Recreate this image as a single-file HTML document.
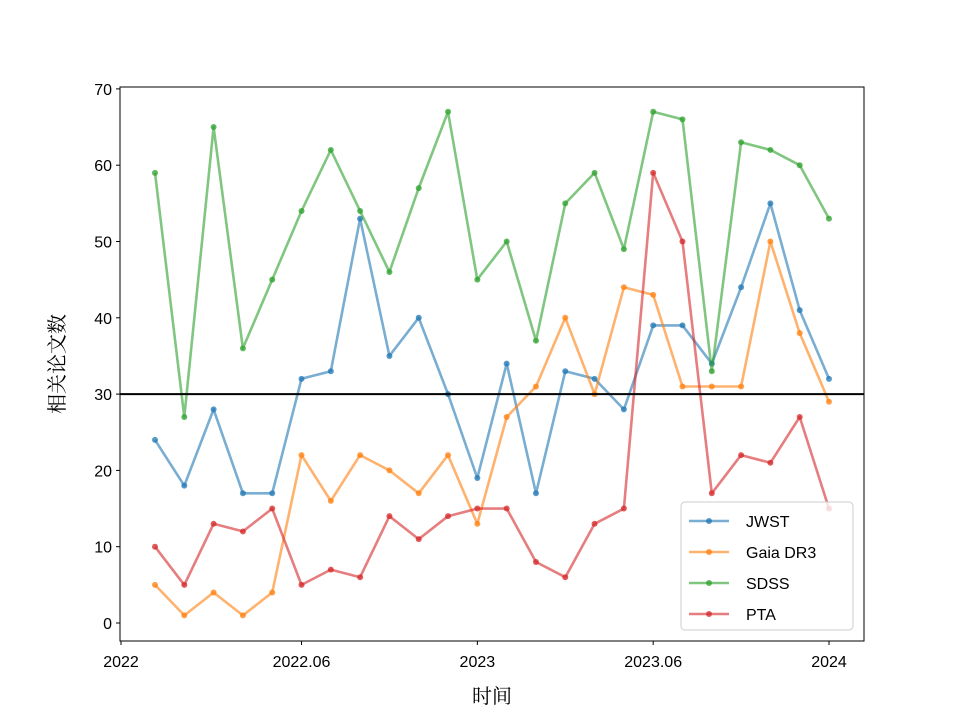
<!DOCTYPE html>
<html><head><meta charset="utf-8"><style>
body{margin:0;background:#fff;}
svg{display:block;font-family:"Liberation Sans","DejaVu Sans","Noto Sans CJK SC",sans-serif;}
</style></head><body>
<svg id="chart" width="960" height="720">
<rect x="0" y="0" width="960" height="720" fill="#fff"/>
<g id="plot"></g>
</svg>
<script>
const months = ["2022-01","2022-02","2022-03","2022-04","2022-05","2022-06","2022-07","2022-08","2022-09","2022-10","2022-11","2022-12","2023-01","2023-02","2023-03","2023-04","2023-05","2023-06","2023-07","2023-08","2023-09","2023-10","2023-11","2023-12"];
const seriesNames = ["JWST","Gaia DR3","SDSS","PTA"];
const jwst = [24,18,28,17,17,32,33,53,35,40,30,19,34,17,33,32,28,39,39,34,44,55,41,32];
const gaia = [5,1,4,1,4,22,16,22,20,17,22,13,27,31,40,30,44,43,31,31,31,50,38,29];
const sdss = [59,27,65,36,45,54,62,54,46,57,67,45,50,37,55,59,49,67,66,33,63,62,60,53];
const pta = [10,5,13,12,15,5,7,6,14,11,14,15,15,8,6,13,15,59,50,17,22,21,27,15];
const yTicks = [0,10,20,30,40,50,60,70];
const xTickIndex = [-1.16,5,11,17,23];
const xTickLabels = ["2022","2022.06","2023","2023.06","2024"];
const refValue = 30;

const NS="http://www.w3.org/2000/svg";
const g=document.getElementById('plot');
const L=120,R=864,T=87,B=641;
function x(i){return 155+i*(829-155)/23;}
function y(v){return 623-v*7.63;}
function el(tag,attrs,parent){const e=document.createElementNS(NS,tag);for(const k in attrs)e.setAttribute(k,attrs[k]);(parent||g).appendChild(e);return e;}
function txt(s,attrs){const e=el('text',attrs);e.textContent=s;return e;}

const colors=["#1f77b4","#ff7f0e","#2ca02c","#d62728"];
const data=[jwst,gaia,sdss,pta];
data.forEach((arr,si)=>{
  const pts=arr.map((v,i)=>x(i).toFixed(1)+","+y(v).toFixed(1)).join(" ");
  const pl=el('polyline',{points:pts,fill:"none",stroke:colors[si],"stroke-width":2.6,"stroke-opacity":0.6,"stroke-linejoin":"round"});
  
  
  arr.forEach((v,i)=>{
    const c=el('circle',{cx:x(i),cy:y(v),r:3,fill:colors[si],"fill-opacity":0.75});
    
    
  });
});
const ref=el('line',{x1:L,x2:R,y1:y(refValue),y2:y(refValue),stroke:"#000","stroke-width":2});



const frame=el('rect',{x:L,y:T,width:R-L,height:B-T,fill:"none",stroke:"#000","stroke-width":1});



yTicks.forEach(v=>{
  const t=el('line',{x1:L-4,x2:L,y1:y(v),y2:y(v),stroke:"#000"});
  
  
  const l=txt(String(v),{x:L-8,y:y(v)+6,"text-anchor":"end","font-size":16});
  
  
});
xTickIndex.forEach((d,i)=>{
  const t=el('line',{x1:x(d),x2:x(d),y1:B,y2:B+4,stroke:"#000"});
  
  
  const l=txt(xTickLabels[i],{x:x(d),y:B+26,"text-anchor":"middle","font-size":16});
  
  
});
const xt=txt("时间",{x:492,y:703,"text-anchor":"middle","font-size":20,"font-family":"'Noto Serif CJK SC','Noto Sans CJK SC',serif"});


const yt=txt("相关论文数",{x:0,y:0,"text-anchor":"middle","font-size":20,transform:"translate(64,364) rotate(-90)","font-family":"'Noto Serif CJK SC','Noto Sans CJK SC',serif"});



const lg=el('g',{});


el('rect',{x:681,y:502,width:172,height:128,rx:4,fill:"#fff","fill-opacity":0.8,stroke:"#ccc"},lg);
seriesNames.forEach((n,i)=>{
  const yy=521+i*31;
  const it=el('g',{},lg);
  
  
  el('line',{x1:689,x2:729,y1:yy,y2:yy,stroke:colors[i],"stroke-width":2.6,"stroke-opacity":0.6},it);
  el('circle',{cx:709,cy:yy,r:3,fill:colors[i],"fill-opacity":0.75},it);
  const t=el('text',{x:746,y:yy+6,"font-size":16},it);
  t.textContent=n;
});
</script>
</body></html>
